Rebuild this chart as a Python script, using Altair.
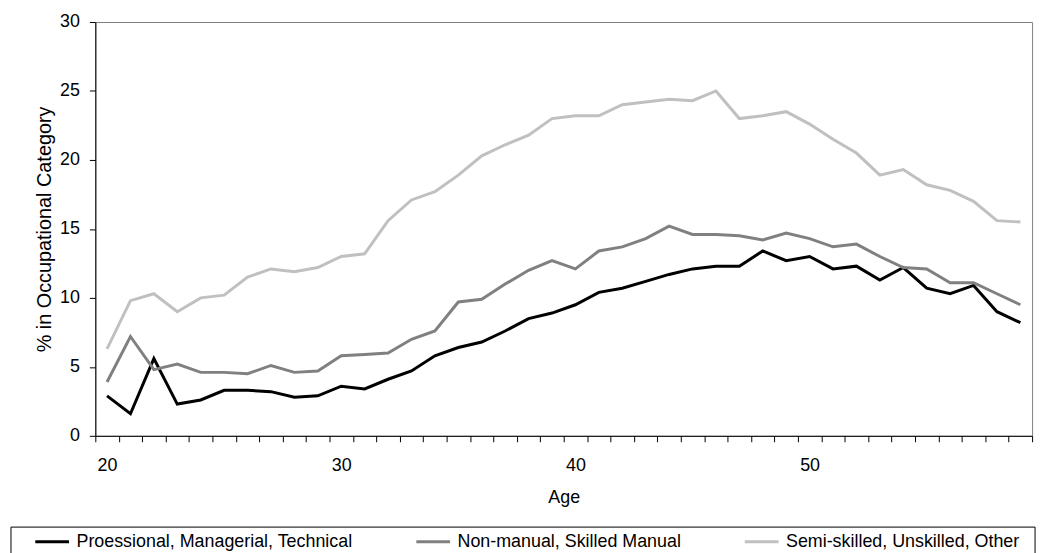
import altair as alt
import pandas as pd

ages = list(range(20, 60))

series_names = [
    "Proessional, Managerial, Technical",
    "Non-manual, Skilled Manual",
    "Semi-skilled, Unskilled, Other",
]

professional = [2.9, 1.6, 5.6, 2.3, 2.6, 3.3, 3.3, 3.2, 2.8, 2.9,
                3.6, 3.4, 4.1, 4.7, 5.8, 6.4, 6.8, 7.6, 8.5, 8.9,
                9.5, 10.4, 10.7, 11.2, 11.7, 12.1, 12.3, 12.3, 13.4, 12.7,
                13.0, 12.1, 12.3, 11.3, 12.2, 10.7, 10.3, 10.9, 9.0, 8.2]

nonmanual = [3.9, 7.2, 4.8, 5.2, 4.6, 4.6, 4.5, 5.1, 4.6, 4.7,
             5.8, 5.9, 6.0, 7.0, 7.6, 9.7, 9.9, 11.0, 12.0, 12.7,
             12.1, 13.4, 13.7, 14.3, 15.2, 14.6, 14.6, 14.5, 14.2, 14.7,
             14.3, 13.7, 13.9, 13.0, 12.2, 12.1, 11.1, 11.1, 10.3, 9.5]

semiskilled = [6.3, 9.8, 10.3, 9.0, 10.0, 10.2, 11.5, 12.1, 11.9, 12.2,
               13.0, 13.2, 15.6, 17.1, 17.7, 18.9, 20.3, 21.1, 21.8, 23.0,
               23.2, 23.2, 24.0, 24.2, 24.4, 24.3, 25.0, 23.0, 23.2, 23.5,
               22.6, 21.5, 20.5, 18.9, 19.3, 18.2, 17.8, 17.0, 15.6, 15.5]

colors = ["#000000", "#808080", "#C0C0C0"]
y_ticks = [0, 5, 10, 15, 20, 25, 30]

rows = []
for name, vals in zip(series_names, [professional, nonmanual, semiskilled]):
    for a, v in zip(ages, vals):
        rows.append({"Age": a, "Series": name, "Value": v})
df = pd.DataFrame(rows)

FONT = "Liberation Sans"

lines = alt.Chart(df).mark_line(strokeWidth=3).encode(
    x=alt.X(
        "Age:O",
        scale=alt.Scale(type="band", paddingInner=0, paddingOuter=0),
        bandPosition=0.5,
        axis=alt.Axis(
            title="Age",
            tickBand="extent",
            labelExpr="datum.value % 10 == 0 ? datum.label : ''",
            labelAngle=0,
            labelOverlap=False,
            tickSize=6,
            labelPadding=15,
            titlePadding=14,
        ),
    ),
    y=alt.Y(
        "Value:Q",
        scale=alt.Scale(domain=[0, 30], nice=False, zero=True),
        axis=alt.Axis(
            title="% in Occupational Category",
            titleFontSize=20,
            values=y_ticks,
            tickSize=6,
            labelPadding=10,
            titlePadding=5,
        ),
    ),
    color=alt.Color(
        "Series:N",
        scale=alt.Scale(domain=series_names, range=colors),
        legend=alt.Legend(
            title=None,
            orient="none",
            direction="horizontal",
            columns=3,
            legendX=-62,
            legendY=505,
            symbolType="stroke",
            symbolStrokeWidth=3,
            symbolSize=1156,
            labelFontSize=18,
            labelFont=FONT,
            labelColor="#000000",
            labelLimit=500,
            labelOffset=6,
            columnPadding=57,
            padding=0,
        ),
    ),
)

frame = alt.Chart(pd.DataFrame({"k": [0]})).mark_rect(
    fill="white", fillOpacity=0, stroke="#000000", strokeWidth=1
).encode(
    x=alt.value(-85),
    x2=alt.value(947),
    y=alt.value(509),
    y2=alt.value(600),
)

chart = alt.layer(lines, frame).properties(
    width=944,
    height=417,
    autosize=alt.AutoSizeParams(type="none"),
    padding={"left": 88, "top": 12, "right": 11, "bottom": 120},
).configure_view(
    stroke="#808080", strokeWidth=1
).configure_axis(
    grid=False,
    domainColor="#000000",
    tickColor="#000000",
    labelColor="#000000",
    titleColor="#000000",
    labelFont=FONT,
    titleFont=FONT,
    labelFontSize=18,
    titleFontSize=18,
    titleFontWeight="normal",
)

chart.save("out.html", embed_options={"renderer": "svg", "actions": False})
